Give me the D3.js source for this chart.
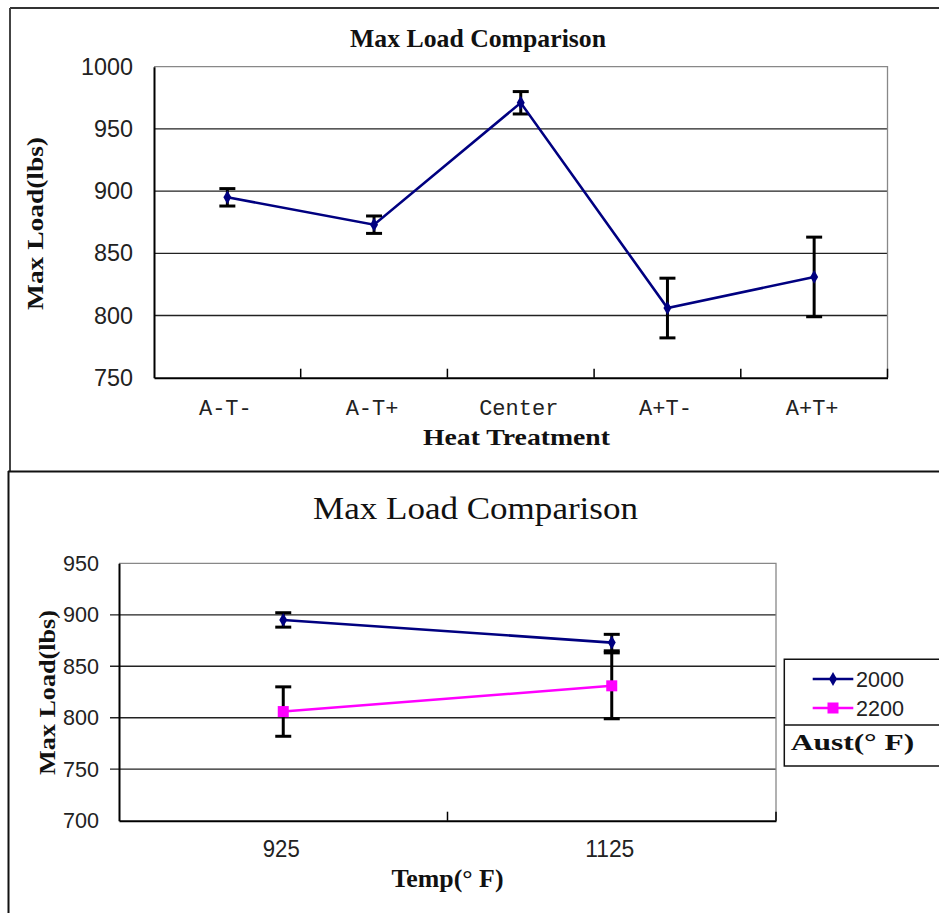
<!DOCTYPE html>
<html>
<head>
<meta charset="utf-8">
<script src="https://cdn.jsdelivr.net/npm/d3@7"></script>
<style>
  html, body { margin: 0; padding: 0; background: #fff; }
  svg { display: block; }
</style>
</head>
<body>
<svg id="chart" width="939" height="913"></svg>
<script>
// ---------- data ----------
const treatments = ["A-T-", "A-T+", "Center", "A+T-", "A+T+"];
const treatmentMeans = [895, 873, 971, 806, 831];
const treatmentErrors = [7, 7, 9, 24, 32];
const topTicks = [750, 800, 850, 900, 950, 1000];

const temps = ["925", "1125"];
const austSeries = ["2000", "2200"];
const aust2000Means = [895, 873];
const aust2000Errors = [7, 8];
const aust2200Means = [806, 831];
const aust2200Errors = [24, 32];
const bottomTicks = [700, 750, 800, 850, 900, 950];

const NAVY = "#000080", MAGENTA = "#ff00ff";
const svg = d3.select("#chart");

// ---------- frames ----------
svg.append("line").attr("x1", 10).attr("x2", 939).attr("y1", 8).attr("y2", 8)
  .attr("stroke", "#333").attr("stroke-width", 2);
svg.append("line").attr("x1", 10).attr("x2", 10).attr("y1", 8).attr("y2", 471)
  .attr("stroke", "#444").attr("stroke-width", 2);
svg.append("line").attr("x1", 8).attr("x2", 939).attr("y1", 471.5).attr("y2", 471.5)
  .attr("stroke", "#111").attr("stroke-width", 2.2);
svg.append("line").attr("x1", 8.5).attr("x2", 8.5).attr("y1", 471).attr("y2", 913)
  .attr("stroke", "#111").attr("stroke-width", 2);

function errorBars(g, x, y, means, errs, cats) {
  const cap = 8;
  means.forEach((m, i) => {
    const cx = x(cats[i]) + x.bandwidth() / 2;
    const y1 = y(m + errs[i]), y2 = y(m - errs[i]);
    g.append("line").attr("x1", cx).attr("x2", cx).attr("y1", y1).attr("y2", y2)
      .attr("stroke", "#000").attr("stroke-width", 3);
    [y1, y2].forEach(yy => g.append("line").attr("x1", cx - cap).attr("x2", cx + cap)
      .attr("y1", yy).attr("y2", yy).attr("stroke", "#000").attr("stroke-width", 3));
  });
}

const fontSans = "'Liberation Sans', Arial, sans-serif";
const fontMono = "'Liberation Mono', 'DejaVu Sans Mono', monospace";
const fontSerif = "'Liberation Serif', 'Times New Roman', serif";

// ================= TOP CHART =================
{
  const L = 154, R = 887.5, T = 66.7, B = 377.7;
  const x = d3.scaleBand().domain(treatments).range([L, R]);
  const y = d3.scaleLinear().domain([750, 1000]).range([B, T]);
  const g = svg.append("g");

  g.selectAll(".grid").data(topTicks.filter(v => v > 750 && v < 1000)).join("line")
    .attr("x1", L).attr("x2", R).attr("y1", d => y(d)).attr("y2", d => y(d))
    .attr("stroke", "#222").attr("stroke-width", 1.3);
  g.append("path").attr("d", `M${L},${T}H${R}V${B}`).attr("fill", "none")
    .attr("stroke", "#888").attr("stroke-width", 1.3);

  const ya = g.append("g").attr("transform", `translate(${L},0)`)
    .call(d3.axisLeft(y).tickValues(topTicks).tickSize(0).tickPadding(21).tickFormat(d3.format("d")));
  ya.select(".domain").attr("stroke", "#000").attr("stroke-width", 2);
  ya.selectAll("text").attr("font-family", fontSans).attr("font-size", 24).attr("fill", "#222")
    .attr("textLength", d => String(d).length * 13).attr("lengthAdjust", "spacingAndGlyphs");

  const xa = g.append("g").attr("transform", `translate(0,${B})`)
    .call(d3.axisBottom(x).tickSize(0));
  xa.select(".domain").attr("stroke", "#000").attr("stroke-width", 2);
  xa.selectAll("text").attr("font-family", fontMono).attr("font-size", 22)
    .attr("fill", "#222").attr("y", 37).attr("dy", 0).attr("dx", -2);
  g.selectAll(".btick").data(treatments.slice(1).concat(["end"])).join("line")
    .attr("x1", (d, i) => x.step() * (i + 1) + L).attr("x2", (d, i) => x.step() * (i + 1) + L)
    .attr("y1", B).attr("y2", B - 9).attr("stroke", "#000").attr("stroke-width", 1.5);

  errorBars(g, x, y, treatmentMeans, treatmentErrors, treatments);

  const line = d3.line().x((d, i) => x(treatments[i]) + x.bandwidth() / 2).y(d => y(d));
  g.append("path").datum(treatmentMeans).attr("d", line).attr("fill", "none")
    .attr("stroke", NAVY).attr("stroke-width", 2.6);
  g.selectAll(".mk").data(treatmentMeans).join("path")
    .attr("transform", (d, i) => `translate(${x(treatments[i]) + x.bandwidth() / 2},${y(d)})`)
    .attr("d", d3.symbol(d3.symbolDiamond, 55)).attr("fill", NAVY);

  svg.append("text").attr("x", 478).attr("y", 46.5).attr("text-anchor", "middle")
    .attr("font-family", fontSerif).attr("font-weight", "bold").attr("font-size", 25)
    .attr("textLength", 256).attr("lengthAdjust", "spacingAndGlyphs").attr("fill", "#111")
    .text("Max Load Comparison");
  svg.append("text").attr("x", 516.5).attr("y", 445).attr("text-anchor", "middle")
    .attr("font-family", fontSerif).attr("font-weight", "bold").attr("font-size", 24)
    .attr("textLength", 187).attr("lengthAdjust", "spacingAndGlyphs").attr("fill", "#111")
    .text("Heat Treatment");
  svg.append("text").attr("transform", "translate(43,223.5) rotate(-90)").attr("text-anchor", "middle")
    .attr("font-family", fontSerif).attr("font-weight", "bold").attr("font-size", 24)
    .attr("textLength", 173).attr("lengthAdjust", "spacingAndGlyphs").attr("fill", "#111")
    .text("Max Load(lbs)");
}

// ================= BOTTOM CHART =================
{
  const L = 119, R = 776, T = 563.3, B = 820.7;
  const x = d3.scaleBand().domain(temps).range([L, R]);
  const y = d3.scaleLinear().domain([700, 950]).range([B, T]);
  const g = svg.append("g");

  g.selectAll(".grid").data(bottomTicks.filter(v => v > 700 && v < 950)).join("line")
    .attr("x1", L - 9).attr("x2", R).attr("y1", d => y(d)).attr("y2", d => y(d))
    .attr("stroke", "#222").attr("stroke-width", 1.3);
  g.append("path").attr("d", `M${L},${T}H${R}V${B}`).attr("fill", "none")
    .attr("stroke", "#888").attr("stroke-width", 1.3);

  const ya = g.append("g").attr("transform", `translate(${L},0)`)
    .call(d3.axisLeft(y).tickValues(bottomTicks).tickSize(0).tickPadding(20).tickFormat(d3.format("d")));
  ya.select(".domain").attr("stroke", "#000").attr("stroke-width", 2);
  ya.selectAll("text").attr("font-family", fontSans).attr("font-size", 22).attr("fill", "#222")
    .attr("textLength", d => String(d).length * 12).attr("lengthAdjust", "spacingAndGlyphs");

  const xa = g.append("g").attr("transform", `translate(0,${B})`)
    .call(d3.axisBottom(x).tickSize(0));
  xa.select(".domain").attr("stroke", "#000").attr("stroke-width", 2);
  xa.selectAll("text").attr("font-family", fontSans).attr("font-size", 23)
    .attr("fill", "#222").attr("y", 36.5).attr("dy", 0).attr("dx", -2)
    .attr("textLength", d => String(d).length * 12.3).attr("lengthAdjust", "spacingAndGlyphs");
  g.selectAll(".btick").data(temps).join("line")
    .attr("x1", (d, i) => x.step() * (i + 1) + L).attr("x2", (d, i) => x.step() * (i + 1) + L)
    .attr("y1", B).attr("y2", B - 9).attr("stroke", "#000").attr("stroke-width", 1.5);

  errorBars(g, x, y, aust2000Means, aust2000Errors, temps);
  errorBars(g, x, y, aust2200Means, aust2200Errors, temps);

  const line = d3.line().x((d, i) => x(temps[i]) + x.bandwidth() / 2).y(d => y(d));
  g.append("path").datum(aust2000Means).attr("d", line).attr("fill", "none")
    .attr("stroke", NAVY).attr("stroke-width", 2.6);
  g.append("path").datum(aust2200Means).attr("d", line).attr("fill", "none")
    .attr("stroke", MAGENTA).attr("stroke-width", 2.6);
  g.selectAll(".mk1").data(aust2000Means).join("path")
    .attr("transform", (d, i) => `translate(${x(temps[i]) + x.bandwidth() / 2},${y(d)})`)
    .attr("d", d3.symbol(d3.symbolDiamond, 55)).attr("fill", NAVY);
  g.selectAll(".mk2").data(aust2200Means).join("rect")
    .attr("x", (d, i) => x(temps[i]) + x.bandwidth() / 2 - 5.5).attr("y", d => y(d) - 5.5)
    .attr("width", 11).attr("height", 11).attr("fill", MAGENTA);

  svg.append("text").attr("x", 475.5).attr("y", 519).attr("text-anchor", "middle")
    .attr("font-family", fontSerif).attr("font-size", 32)
    .attr("textLength", 325).attr("lengthAdjust", "spacingAndGlyphs").attr("fill", "#111")
    .text("Max Load Comparison");
  svg.append("text").attr("x", 447.5).attr("y", 886.5).attr("text-anchor", "middle")
    .attr("font-family", fontSerif).attr("font-weight", "bold").attr("font-size", 25)
    .attr("textLength", 112).attr("lengthAdjust", "spacingAndGlyphs").attr("fill", "#111")
    .text("Temp(° F)");
  svg.append("text").attr("transform", "translate(55,692.5) rotate(-90)").attr("text-anchor", "middle")
    .attr("font-family", fontSerif).attr("font-weight", "bold").attr("font-size", 24)
    .attr("textLength", 165).attr("lengthAdjust", "spacingAndGlyphs").attr("fill", "#111")
    .text("Max Load(lbs)");

  // legend
  const lg = svg.append("g");
  lg.append("path").attr("d", "M945,659.3H784.3V766H945").attr("fill", "none")
    .attr("stroke", "#111").attr("stroke-width", 1.5);
  lg.append("line").attr("x1", 784.3).attr("x2", 945).attr("y1", 725).attr("y2", 725)
    .attr("stroke", "#111").attr("stroke-width", 1.5);
  const colors = [NAVY, MAGENTA];
  const ly = [679, 708];
  austSeries.forEach((s, i) => {
    lg.append("line").attr("x1", 812.7).attr("x2", 853.3).attr("y1", ly[i]).attr("y2", ly[i])
      .attr("stroke", colors[i]).attr("stroke-width", 2.6);
    if (i === 0) {
      lg.append("path").attr("transform", `translate(833,${ly[i]})`)
        .attr("d", d3.symbol(d3.symbolDiamond, 55)).attr("fill", NAVY);
    } else {
      lg.append("rect").attr("x", 827.5).attr("y", ly[i] - 5.5).attr("width", 11).attr("height", 11)
        .attr("fill", MAGENTA);
    }
    lg.append("text").attr("x", 856).attr("y", ly[i]).attr("dy", "0.36em")
      .attr("font-family", fontSans).attr("font-size", 22).attr("fill", "#222")
      .attr("textLength", 48).attr("lengthAdjust", "spacingAndGlyphs").text(s);
  });
  lg.append("text").attr("x", 790.7).attr("y", 741.7).attr("dy", "0.36em")
    .attr("font-family", fontSerif).attr("font-weight", "bold").attr("font-size", 24)
    .attr("textLength", 123.6).attr("lengthAdjust", "spacingAndGlyphs").attr("fill", "#111")
    .text("Aust(° F)");
}
</script>
</body>
</html>
